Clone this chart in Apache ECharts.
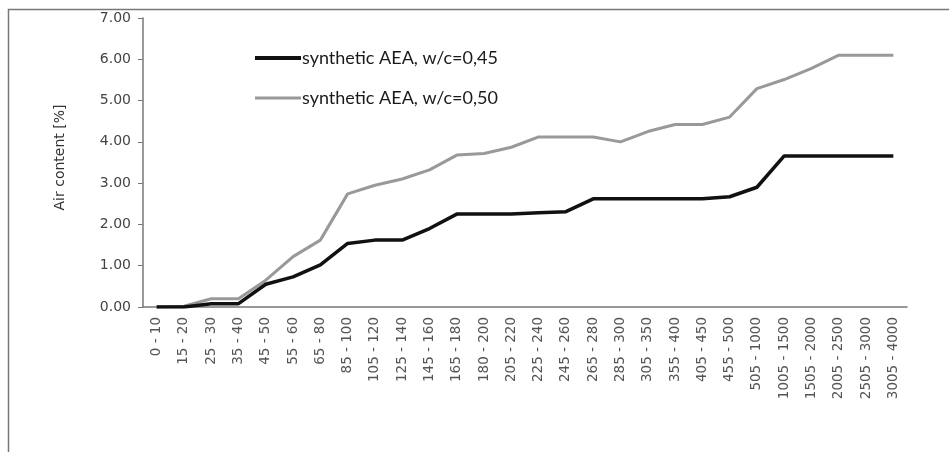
<!DOCTYPE html>
<html><head><meta charset="utf-8">
<script src="https://cdn.jsdelivr.net/npm/echarts@6/dist/echarts.min.js"></script>
<style>html,body{margin:0;padding:0;background:#fff}#c{width:949px;height:452px}</style>
</head><body><div id="c"></div>
<script>
const categories = ["0 - 10","15 - 20","25 - 30","35 - 40","45 - 50","55 - 60","65 - 80","85 - 100","105 - 120","125 - 140","145 - 160","165 - 180","180 - 200","205 - 220","225 - 240","245 - 260","265 - 280","285 - 300","305 - 350","355 - 400","405 - 450","455 - 500","505 - 1000","1005 - 1500","1505 - 2000","2005 - 2500","2505 - 3000","3005 - 4000"];
const series045 = [0,0,0.08,0.08,0.55,0.73,1.02,1.54,1.62,1.62,1.9,2.25,2.25,2.25,2.28,2.31,2.62,2.62,2.62,2.62,2.62,2.67,2.9,3.66,3.66,3.66,3.66,3.66];
const series050 = [0,0.02,0.2,0.2,0.65,1.22,1.62,2.74,2.95,3.1,3.32,3.68,3.72,3.87,4.12,4.12,4.12,4.0,4.25,4.42,4.42,4.6,5.29,5.51,5.78,6.1,6.1,6.1];
const name045 = "synthetic AEA, w/c=0,45";
const name050 = "synthetic AEA, w/c=0,50";
const yLabel = "Air content [%]";

const chart = echarts.init(document.getElementById('c'));
chart.setOption({
  animation:false,
  backgroundColor:'#fff',
  graphic:[{type:'rect',shape:{x:8.5,y:9.5,width:960,height:460},style:{fill:'none',stroke:'#777',lineWidth:1.5},silent:true}],
  grid:{left:143,right:42,top:18,bottom:145},
  legend:{
    left:250, top:43, orient:'vertical', itemGap:20,
    itemWidth:46, itemHeight:16,
    textStyle:{fontFamily:'Lato',fontSize:18,lineHeight:20,color:'#1a1a1a',padding:[0,0,0,-4]},
    data:[
      {name:name045,icon:'path://M0,6h46v4H0z'},
      {name:name050,icon:'path://M0,6.5h46v3H0z'}
    ]
  },
  xAxis:{
    type:'category', data:categories, boundaryGap:true,
    axisLine:{lineStyle:{color:'#777',width:1.5}},
    axisTick:{show:false},
    axisLabel:{rotate:90,interval:0,fontFamily:'DejaVu Sans',fontSize:13.5,color:'#555',margin:10}
  },
  yAxis:{
    type:'value', min:0, max:7, interval:1,
    name:yLabel, nameLocation:'middle', nameGap:76, nameRotate:90,
    nameTextStyle:{fontFamily:'DejaVu Sans',fontSize:14,color:'#333',padding:[0,0,0,10]},
    axisLine:{show:true,lineStyle:{color:'#777',width:1.5}},
    axisTick:{show:true,inside:false,length:5,lineStyle:{color:'#777'}},
    splitLine:{show:false},
    axisLabel:{formatter:v=>v.toFixed(2),fontFamily:'DejaVu Sans',fontSize:14,color:'#444',margin:12}
  },
  series:[
    {name:name045,type:'line',data:series045,symbol:'none',lineStyle:{color:'#111',width:3.5},itemStyle:{color:'#111'},z:3},
    {name:name050,type:'line',data:series050,symbol:'none',lineStyle:{color:'#999',width:3},itemStyle:{color:'#999'},z:2}
  ]
});
</script></body></html>
